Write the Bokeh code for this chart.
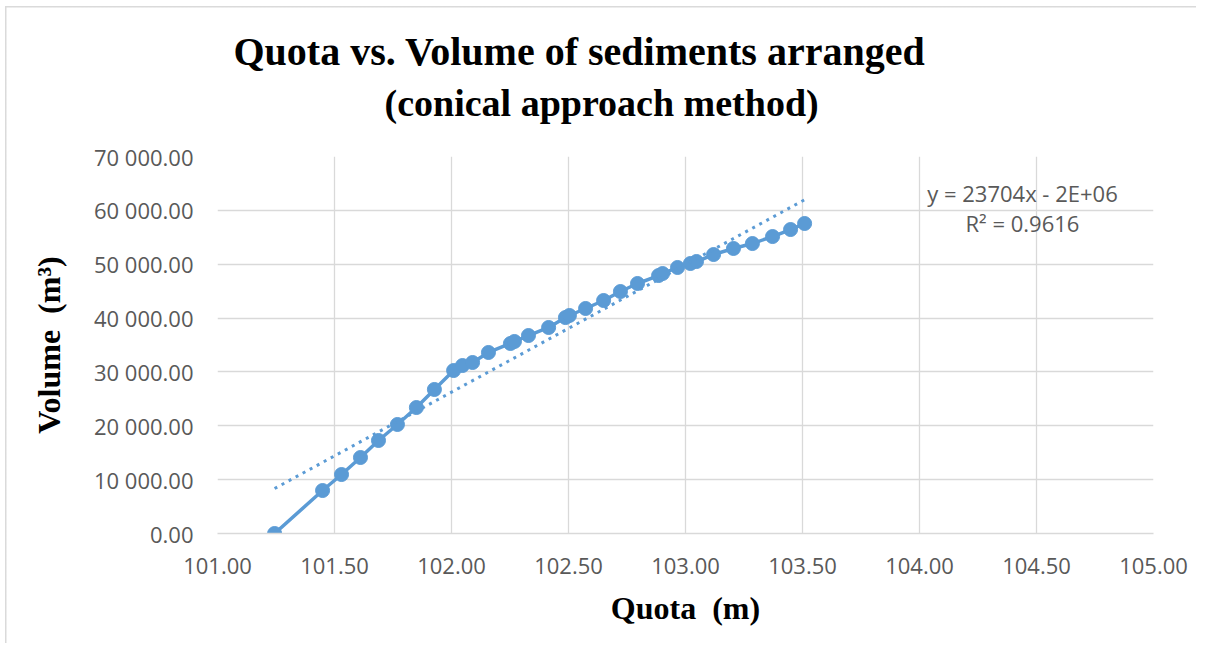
import numpy as np
from bokeh.plotting import figure
from bokeh.models import Range1d, FixedTicker, Label, ColumnDataSource, Title
from bokeh.embed import file_html
from bokeh.resources import INLINE

# ---- data ----
quota = [101.244, 101.449, 101.530, 101.611, 101.688, 101.769, 101.850, 101.927,
         102.009, 102.047, 102.090, 102.158, 102.252, 102.269, 102.329, 102.415,
         102.487, 102.504, 102.573, 102.650, 102.722, 102.795, 102.885, 102.902,
         102.966, 103.021, 103.047, 103.120, 103.205, 103.286, 103.372, 103.449,
         103.509]
volume = [0, 7980, 10950, 14110, 17270, 20240, 23390, 26740,
          30260, 31190, 31750, 33610, 35280, 35650, 36760, 38250,
          40100, 40480, 41780, 43260, 44930, 46420, 47900, 48270,
          49390, 50130, 50500, 51800, 52920, 53840, 55140, 56440,
          57560]

x_ticks = [101.0, 101.5, 102.0, 102.5, 103.0, 103.5, 104.0, 104.5, 105.0]
x_tick_labels = ["101.00", "101.50", "102.00", "102.50", "103.00",
                 "103.50", "104.00", "104.50", "105.00"]
y_ticks = [0, 10000, 20000, 30000, 40000, 50000, 60000, 70000]
y_tick_labels = ["0.00", "10 000.00", "20 000.00", "30 000.00", "40 000.00",
                 "50 000.00", "60 000.00", "70 000.00"]

title_lines = ["Quota vs. Volume of sediments arranged", "(conical approach method)"]
x_label = "Quota\u00a0 (m)"
y_label = "Volume\u00a0 (m³)"
equation_text = "y = 23704x - 2E+06"
r2_text = "R² = 0.9616"

BLUE = "#5B9BD5"
GRID = "#D9D9D9"
TICK = "#595959"

# linear trend line (least squares on the data)
slope, intercept = np.polyfit(quota, volume, 1)
trend_x = [min(quota), max(quota)]
trend_y = [slope * v + intercept for v in trend_x]

p = figure(width=1196, height=643, output_backend="svg", toolbar_location=None,
           x_range=Range1d(101, 105), y_range=Range1d(0, 70000),
           min_border_left=217, min_border_right=43,
           min_border_top=156, min_border_bottom=110)

p.outline_line_color = None
p.background_fill_color = "white"
p.border_fill_alpha = 0
# chart-area border (left and top edges)
p.styles = {
    "background-color": "white",
    "background-image": "linear-gradient(#DADADA, #DADADA), linear-gradient(#DADADA, #DADADA)",
    "background-position": "5px 6px, 5px 6px",
    "background-size": "1.5px 100%, 100% 1.5px",
    "background-repeat": "no-repeat",
}

# grid
p.xgrid.ticker = FixedTicker(ticks=x_ticks)
p.ygrid.ticker = FixedTicker(ticks=y_ticks)
for g in (p.xgrid, p.ygrid):
    g.grid_line_color = GRID
    g.grid_line_width = 1.3

# axes
p.xaxis.ticker = FixedTicker(ticks=x_ticks)
p.yaxis.ticker = FixedTicker(ticks=y_ticks)
p.xaxis.major_label_overrides = {t: l for t, l in zip(x_ticks, x_tick_labels)}
p.yaxis.major_label_overrides = {t: l for t, l in zip(y_ticks, y_tick_labels)}
for ax in (p.xaxis, p.yaxis):
    ax.major_tick_line_color = None
    ax.minor_tick_line_color = None
    ax.major_label_text_font = "Open Sans"
    ax.major_label_text_font_size = "22px"
    ax.major_label_text_color = TICK
    ax.axis_label_text_font = "Liberation Serif"
    ax.axis_label_text_font_style = "bold"
    ax.axis_label_text_font_size = "32px"
    ax.axis_label_text_color = "black"
p.xaxis.axis_line_color = GRID
p.xaxis.axis_line_width = 1.3
p.yaxis.axis_line_color = None
p.xaxis.major_label_standoff = 18
p.yaxis.major_label_standoff = 18
p.xaxis.axis_label = x_label
p.yaxis.axis_label = y_label
p.xaxis.axis_label_standoff = 13
p.yaxis.axis_label_standoff = 24

src = ColumnDataSource(dict(x=quota, y=volume))
p.line("x", "y", source=src, line_color=BLUE, line_width=3.5)
p.scatter("x", "y", source=src, size=14, fill_color=BLUE, line_color=BLUE)

p.line(trend_x, trend_y, line_color=BLUE, line_width=3, line_dash="3 5")

# trendline equation
p.add_layout(Label(x=104.44, y=63300, text=equation_text, text_align="center",
                   text_baseline="middle", text_font="Open Sans",
                   text_font_size="22px", text_color=TICK))
p.add_layout(Label(x=104.44, y=57700, text=r2_text, text_align="center",
                   text_baseline="middle", text_font="Open Sans",
                   text_font_size="22px", text_color=TICK))

# title lines, stacked from the frame upward: spacer, line 2, line 1
p.add_layout(Title(text=" ", standoff=30, text_font_size="1px"), "above")
p.add_layout(Title(text=title_lines[1], align="left", offset=167, standoff=0,
                   text_font="Liberation Serif", text_font_style="bold",
                   text_font_size="38px", text_color="black"), "above")
p.add_layout(Title(text=title_lines[0], align="left", offset=16, standoff=11,
                   text_font="Liberation Serif", text_font_style="bold",
                   text_font_size="40px", text_color="black"), "above")

open("out.html", "w").write(file_html(p, INLINE))
